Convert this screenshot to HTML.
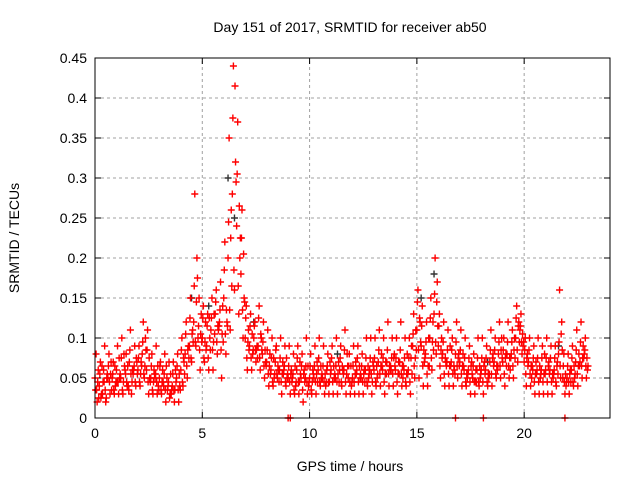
<!DOCTYPE html>
<html><head><meta charset="utf-8"><style>
body{margin:0;background:#fff}
svg{display:block;font-family:"Liberation Sans",sans-serif}
</style></head><body>
<svg id="chart" width="640" height="480" viewBox="0 0 640 480">
<text x="350" y="32" font-size="14" text-anchor="middle">Day 151 of 2017, SRMTID for receiver ab50</text>
<text transform="translate(19,238) rotate(-90)" font-size="14" text-anchor="middle">SRMTID / TECUs</text>
<text x="350" y="471" font-size="14" text-anchor="middle">GPS time / hours</text>
<g id="grid"></g>
<g id="ticks"></g>
<g id="marks"></g>
<rect x="95" y="58" width="515" height="360" fill="none" stroke="#000" stroke-width="1"/>
</svg>
<script>
const xTicks=[0,5,10,15,20];
const yTicks=[0,0.05,0.1,0.15,0.2,0.25,0.3,0.35,0.4,0.45];
const yTickLabels=["0","0.05","0.1","0.15","0.2","0.25","0.3","0.35","0.4","0.45"];
const binStart=0, binStep=0.2;
const seriesA=[.05,.04,.06,.05,.05,.06,.05,.06,.07,.06,.06,.08,.06,.05,.05,.05,.04,.04,.04,.05,.06,.08,.09,.12,.10,.10,.09,.11,.13,.12,.15,.20,.28,.24,.18,.10,.09,.10,.09,.08,.07,.06,.07,.06,.06,.05,.05,.06,.05,.05,.05,.05,.06,.05,.06,.06,.05,.06,.06,.05,.05,.06,.05,.06,.06,.06,.07,.06,.07,.06,.06,.07,.06,.06,.09,.11,.09,.08,.10,.13,.09,.08,.07,.07,.08,.07,.06,.06,.05,.06,.06,.06,.07,.07,.08,.07,.08,.08,.10,.11,.07,.07,.06,.06,.06,.06,.06,.06,.08,.05,.05,.06,.07,.07,.08];
const seriesB=[.08,.07,.09,.08,.07,.09,.10,.08,.11,.09,.09,.12,.11,.08,.09,.07,.08,.07,.07,.08,.10,.12,.15,.28,.15,.14,.13,.15,.16,.17,.22,.35,.44,.37,.26,.14,.13,.12,.14,.12,.11,.10,.09,.10,.09,.09,.08,.09,.08,.10,.08,.09,.10,.09,.08,.09,.10,.09,.11,.08,.09,.09,.08,.10,.10,.10,.11,.10,.12,.10,.10,.12,.10,.10,.13,.16,.14,.12,.15,.20,.13,.12,.11,.10,.12,.11,.10,.09,.08,.10,.10,.09,.11,.10,.12,.10,.12,.11,.14,.13,.10,.10,.09,.10,.09,.10,.09,.09,.16,.08,.08,.09,.11,.12,.10];
const seriesC=[.02,.03,.02,.03,.03,.03,.03,.04,.03,.04,.04,.05,.03,.03,.03,.03,.02,.03,.02,.02,.04,.05,.07,.09,.06,.07,.06,.06,.08,.05,.08,.11,.16,.13,.10,.06,.06,.07,.06,.05,.04,.04,.05,.03,.04,.03,.03,.03,.02,.03,.03,.03,.04,.03,.03,.03,.03,.04,.03,.03,.03,.03,.03,.04,.03,.04,.04,.03,.04,.04,.03,.04,.04,.03,.05,.05,.04,.04,.06,.08,.05,.04,.04,.04,.05,.04,.04,.03,.03,.04,.03,.04,.04,.05,.05,.04,.05,.05,.07,.08,.04,.04,.03,.03,.03,.03,.03,.04,.05,.03,.03,.04,.04,.05,.05];
const seriesD=[.06,.03,.05,.07,.04,.05,.08,.04,.06,.07,.07,.10,.05,.06,.04,.06,.05,.03,.06,.04,.07,.09,.11,.20,.13,.12,.10,.13,.11,.14,.12,.26,.32,.20,.15,.11,.08,.09,.10,.07,.08,.05,.06,.07,.05,.06,.04,.07,.06,.04,.06,.07,.05,.04,.07,.05,.07,.06,.08,.04,.07,.05,.06,.05,.07,.05,.08,.07,.06,.08,.07,.05,.08,.09,.11,.12,.07,.10,.12,.17,.10,.07,.09,.06,.08,.08,.05,.07,.06,.05,.07,.05,.08,.06,.10,.08,.06,.10,.12,.09,.08,.05,.07,.05,.08,.07,.05,.07,.12,.04,.06,.05,.08,.09,.06];
const seriesE=[.035,.055,.045,.065,.055,.045,.075,.055,.085,.065,.075,.095,.085,.065,.055,.065,.055,.045,.055,.065,.085,.105,.125,.165,.115,.125,.115,.125,.145,.135,.185,.245,.375,.305,.225,.125,.115,.115,.125,.095,.085,.075,.085,.075,.065,.065,.055,.075,.065,.065,.065,.065,.075,.065,.065,.075,.065,.075,.085,.065,.065,.075,.065,.075,.075,.075,.085,.075,.085,.075,.075,.085,.075,.075,.105,.145,.115,.095,.125,.155,.115,.095,.085,.085,.095,.085,.075,.075,.065,.075,.075,.075,.085,.085,.095,.085,.095,.095,.125,.115,.085,.085,.075,.075,.075,.075,.075,.075,.095,.065,.065,.075,.085,.095,.085];
const seriesF=[.035,.025,.035,.045,.035,.045,.035,.045,.055,.045,.045,.055,.045,.035,.045,.035,.035,.025,.035,.035,.045,.065,.075,.095,.085,.075,.075,.085,.095,.085,.105,.135,.185,.165,.135,.075,.075,.085,.075,.065,.055,.045,.055,.045,.045,.045,.035,.045,.035,.045,.035,.045,.045,.045,.045,.045,.045,.045,.045,.045,.045,.045,.045,.045,.055,.045,.055,.045,.055,.055,.045,.055,.045,.045,.065,.085,.065,.055,.075,.095,.065,.055,.055,.055,.065,.055,.045,.045,.045,.045,.045,.045,.055,.055,.065,.055,.065,.065,.085,.095,.055,.055,.045,.045,.045,.045,.045,.045,.065,.045,.045,.045,.055,.065,.065];
const seriesG=[.045,.065,.025,.055,.065,.075,.045,.065,.045,.075,.055,.065,.075,.045,.065,.045,.065,.055,.035,.055,.075,.085,.105,.145,.105,.095,.125,.095,.115,.105,.135,.225,.415,.265,.205,.095,.105,.085,.105,.085,.065,.075,.065,.055,.075,.055,.065,.045,.055,.065,.045,.055,.065,.055,.045,.065,.055,.065,.055,.065,.055,.065,.055,.065,.045,.065,.065,.055,.065,.075,.055,.065,.055,.075,.075,.125,.085,.065,.095,.145,.085,.075,.065,.065,.075,.065,.055,.065,.045,.065,.065,.055,.075,.065,.085,.075,.075,.085,.115,.105,.075,.065,.055,.065,.055,.065,.055,.065,.105,.055,.055,.065,.065,.075,.075];
const seriesH=[.025,.045,.055,.035,.045,.055,.065,.035,.055,.055,.065,.085,.045,.055,.035,.045,.035,.035,.045,.035,.055,.075,.095,.175,.095,.085,.085,.105,.115,.095,.115,.165,.295,.225,.145,.085,.085,.075,.085,.065,.055,.055,.045,.055,.055,.045,.045,.055,.045,.045,.055,.045,.055,.045,.055,.055,.045,.055,.065,.045,.055,.055,.045,.055,.065,.055,.065,.055,.065,.065,.055,.065,.055,.055,.085,.095,.075,.065,.085,.115,.075,.065,.065,.055,.065,.065,.055,.055,.045,.055,.055,.055,.065,.065,.075,.065,.075,.075,.095,.095,.065,.065,.055,.055,.055,.055,.055,.055,.085,.045,.045,.055,.065,.075,.065];
const seriesOffsets=[0,0.05,0.1,0.15,0.025,0.075,0.125,0.175];
const graySeriesTimes=[4.5,5.3,6.2,6.5,7.4,11.3,15.2,15.8,18.3,21.6];
const graySeriesValues=[0.15,0.14,0.30,0.25,0.12,0.08,0.15,0.18,0.07,0.09];
const zeroTimes=[9.0,9.1,16.8,18.1,21.9];

const NS="http://www.w3.org/2000/svg";
const X0=95,X1=610,Y0=418,Y1=58,XMAX=24,YMAX=0.45;
function xs(t){return X0+t/XMAX*(X1-X0);}
function ys(v){return Y0-v/YMAX*(Y0-Y1);}
function mk(tag,attrs,parent){const e=document.createElementNS(NS,tag);for(const k in attrs)e.setAttribute(k,attrs[k]);parent.appendChild(e);return e;}
const grid=document.getElementById('grid'),ticks=document.getElementById('ticks'),marks=document.getElementById('marks');
yTicks.forEach((v,i)=>{
  const y=ys(v);
  if(i>0&&i<yTicks.length-1){const g=mk('line',{x1:X0,x2:X1,y1:y,y2:y,stroke:'#a0a0a0','stroke-dasharray':'3,3'},grid);
  
  }
  mk('line',{x1:X0,x2:X0+6,y1:y,y2:y,stroke:'#000'},ticks);
  mk('line',{x1:X1,x2:X1-6,y1:y,y2:y,stroke:'#000'},ticks);
  const t=mk('text',{x:X0-8,y:y+5,'font-size':14,'text-anchor':'end'},ticks);
  t.textContent=yTickLabels[i];
  
  
});
xTicks.forEach(v=>{
  const x=xs(v);
  if(v>0){const g=mk('line',{x1:x,x2:x,y1:Y0,y2:Y1,stroke:'#a0a0a0','stroke-dasharray':'3,3'},grid);
  
  }
  mk('line',{x1:x,x2:x,y1:Y0,y2:Y0-6,stroke:'#000'},ticks);
  mk('line',{x1:x,x2:x,y1:Y1,y2:Y1+6,stroke:'#000'},ticks);
  const t=mk('text',{x:x,y:Y0+20,'font-size':14,'text-anchor':'middle'},ticks);
  t.textContent=String(v);
  
  
});
function plus(t,v,color){
  const x=xs(t),y=ys(v);
  const p=mk('path',{d:`M${x-3.5} ${y}H${x+3.5}M${x} ${y-3.5}V${y+3.5}`,stroke:color,'stroke-width':1.4,fill:'none'},marks);
  
  
}
graySeriesTimes.forEach((t,i)=>plus(t,graySeriesValues[i],'#333'));
[seriesA,seriesB,seriesC,seriesD,seriesE,seriesF,seriesG,seriesH].forEach((s,k)=>{
  s.forEach((v,i)=>plus(binStart+i*binStep+seriesOffsets[k],v,'#f00'));
});
zeroTimes.forEach(t=>plus(t,0,'#f00'));
</script>
</body></html>
